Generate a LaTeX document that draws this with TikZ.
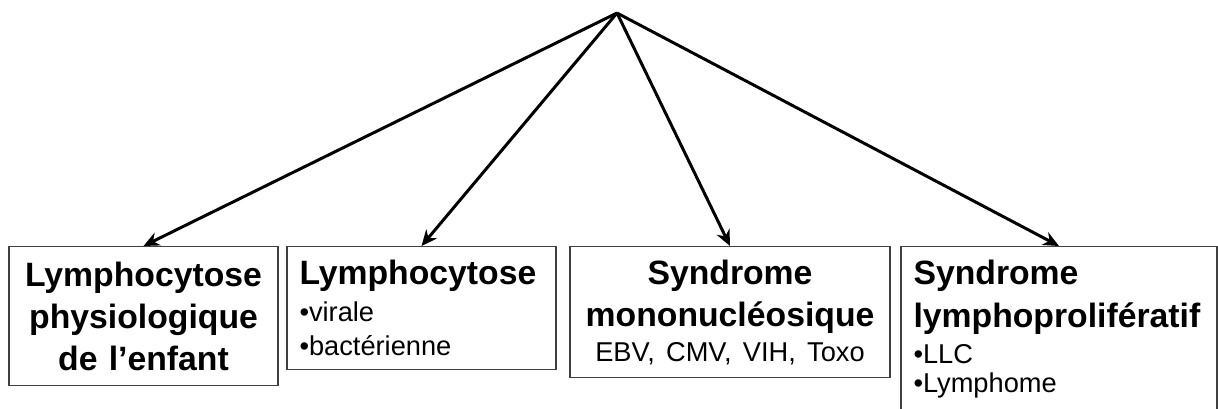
\documentclass[tikz,border=0pt]{standalone}
\usepackage{fontspec}
\setmainfont{Liberation Sans}
\usetikzlibrary{arrows.meta}
\newcommand{\titlefont}{\fontsize{19.2}{24}\selectfont\bfseries}
\newcommand{\itemfont}{\fontsize{15.5}{19}\selectfont\mdseries}
\tikzset{
  catbox/.style={draw=black!75, line width=0.85pt, anchor=north, inner xsep=0.25cm, inner ysep=0.2cm, font=\titlefont},
  branch/.style={-{Stealth[length=9pt,width=8pt]}, line width=1.7pt}
}
\begin{document}
\begin{tikzpicture}
\useasboundingbox (0,0) rectangle (24.36,8.16);
\coordinate (top) at (12.34,7.9);

\node (a) [catbox, minimum width=5.38cm, minimum height=2.78cm, text width=4.88cm, align=center] at (2.87,3.24) {Lymphocytose\\ physiologique\\ de l’enfant};
\node (b) [catbox, minimum width=5.38cm, minimum height=2.46cm, text width=4.88cm, align=left] at (8.43,3.24) {Lymphocytose\\[-3pt] {\itemfont •virale}\\[-4.5pt] {\itemfont •bactérienne}};
\node (c) [catbox, minimum width=6.4cm, minimum height=2.62cm, text width=5.9cm, align=center] at (14.6,3.24) {Syndrome\\ mononucléosique\\[-4pt] {\itemfont EBV, CMV, VIH, Toxo}};
\node (d) [catbox, minimum width=6.32cm, text width=5.82cm, align=left] at (21.18,3.24) {\rule{0pt}{16pt}Syndrome\\ lymphoprolifératif\\[-3pt] {\itemfont •LLC}\\[-7.5pt] {\itemfont •Lymphome\rule[-1.2cm]{0pt}{0pt}}};

\draw [branch] (top) -- (a.north);
\draw [branch] (top) -- (b.north);
\draw [branch] (top) -- (c.north);
\draw [branch] (top) -- (d.north);
\end{tikzpicture}
\end{document}
